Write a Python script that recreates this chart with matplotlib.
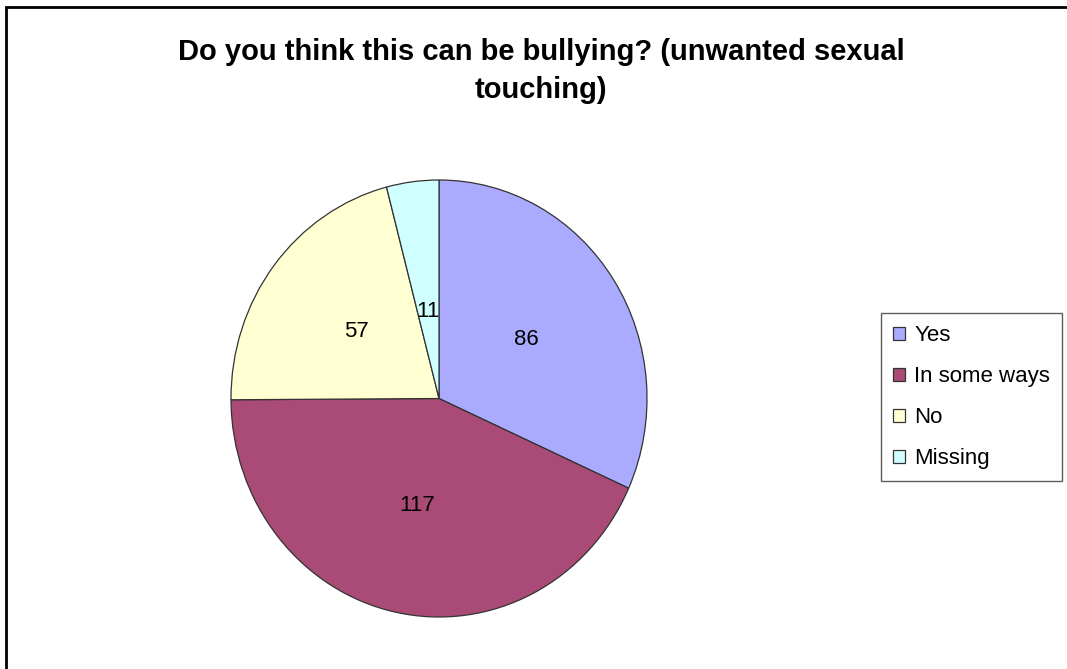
import matplotlib
matplotlib.use("Agg")
import matplotlib.pyplot as plt
from matplotlib.patches import Rectangle, Patch

categories = ["Yes", "In some ways", "No", "Missing"]
values = [86, 117, 57, 11]
colors = ["#AAAAFF", "#A94A77", "#FFFFD2", "#D0FFFF"]
title = "Do you think this can be bullying? (unwanted sexual\ntouching)"

plt.rcParams['font.family'] = ['Liberation Sans', 'DejaVu Sans']

W, H = 1067, 669
fig = plt.figure(figsize=(W / 100, H / 100), dpi=100)
fig.patch.set_facecolor("white")

# outer frame (only left and top visible)
fig.add_artist(Rectangle((6 / W, -0.1), 1.2, (H - 7) / H + 0.1, transform=fig.transFigure,
                         fill=False, edgecolor="black", linewidth=2))

# pie axes: x -1..1 -> 231..647 px, y -1..1 -> 617..180 px
left, right, top, bottom = 231, 647, 180, 617
ax = fig.add_axes([left / W, (H - bottom) / H, (right - left) / W, (bottom - top) / H])

wedges, texts, autotexts = ax.pie(
    values, colors=colors, startangle=90, counterclock=False,
    autopct=lambda p: f"{round(p * sum(values) / 100):d}", pctdistance=0.5,
    wedgeprops=dict(edgecolor="#333333", linewidth=0.9),
    textprops=dict(fontsize=16, color="black"))
ax.set_aspect("auto")
ax.set_xlim(-1, 1)
ax.set_ylim(-1, 1)
ax.set_frame_on(False)

# the small slice label sits a bit closer to the centre
x, y = autotexts[3].get_position()
autotexts[3].set_position((x * 0.8, y * 0.8))

fig.text(541 / W, 1 - 71 / H, title, ha="center", va="center", fontsize=21,
         fontweight="bold", linespacing=1.45)

handles = [Patch(facecolor=c, edgecolor="#333333", linewidth=0.9) for c in colors]
leg = fig.legend(handles, categories, loc="upper left",
                 bbox_to_anchor=(881 / W, 1 - 313 / H), fontsize=16,
                 frameon=True, fancybox=False, handlelength=0.55, handleheight=0.55,
                 handletextpad=0.4, labelspacing=0.9, borderpad=0.55,
                 borderaxespad=0)
leg.get_frame().set_edgecolor("#333333")
leg.get_frame().set_linewidth(1.0)

fig.savefig("out.png", dpi=100)
